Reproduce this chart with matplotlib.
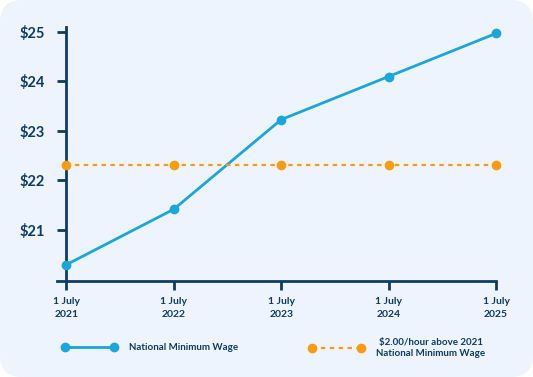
import matplotlib
matplotlib.use("Agg")
import matplotlib.pyplot as plt
from matplotlib.patches import FancyBboxPatch

# Data
years = [2021, 2022, 2023, 2024, 2025]
tick_labels = ["1 July\n2021", "1 July\n2022", "1 July\n2023", "1 July\n2024", "1 July\n2025"]
min_wage = [20.30, 21.42, 23.23, 24.10, 24.97]
above_2021 = [22.31, 22.31, 22.31, 22.31, 22.31]
y_ticks = [21, 22, 23, 24, 25]
y_tick_labels = ["$21", "$22", "$23", "$24", "$25"]

navy = "#0D3B63"
blue = "#1BA6DE"
orange = "#F99C12"
bg = "#EDF4FD"

plt.rcParams['font.family'] = ['Lato', 'DejaVu Sans']

fig = plt.figure(figsize=(5.33, 3.77), dpi=100, facecolor="white")
fig.patches.append(FancyBboxPatch((0, 0), 533, 377, boxstyle="round,pad=0,rounding_size=22",
                                  transform=None, facecolor=bg, edgecolor="none", zorder=-10))

ax = fig.add_axes([0.1077, 0.2546, 0.8229, 0.6738])
ax.set_facecolor("none")
ax.set_zorder(1)

l1, = ax.plot(years, min_wage, color=blue, lw=2, marker="o", ms=6, clip_on=False, zorder=3)
l2, = ax.plot(years, above_2021, color=orange, lw=1.6, ls=(0, (2, 2)), marker="o", ms=6,
              clip_on=False, zorder=3)

ax.set_xlim(2021 - 0.084, 2025)
ax.set_ylim(19.97, 25.1)
ax.spines["left"].set_position(("data", 2021))
for s in ["top", "right"]:
    ax.spines[s].set_visible(False)
for s in ["left", "bottom"]:
    ax.spines[s].set_color(navy)
    ax.spines[s].set_linewidth(2)

ax.set_xticks(years)
ax.set_xticklabels(tick_labels, fontsize=7.5, fontweight="bold", color=navy, linespacing=1.6)
ax.set_yticks(y_ticks)
ax.set_yticklabels(y_tick_labels, fontsize=10.5, fontweight="bold", color=navy)
ax.tick_params(axis="both", direction="out", length=6.5, width=2, color=navy)
ax.tick_params(axis="y", pad=9)
ax.tick_params(axis="x", pad=5)

# legends, one per entry
leg_kw = dict(loc="center left", frameon=False, numpoints=2, handlelength=5.6,
              handletextpad=1.3, borderpad=0, borderaxespad=0,
              prop={"size": 7, "weight": "bold"}, labelcolor=navy)
leg1 = fig.legend([l1], ["National Minimum Wage"], bbox_to_anchor=(62 / 533, 1 - 348 / 377), **leg_kw)
leg2 = fig.legend([l2], ["$2.00/hour above 2021\nNational Minimum Wage"],
                  bbox_to_anchor=(309 / 533, 1 - 348 / 377), **leg_kw)
for t in leg2.get_texts():
    t.set_multialignment("center")
    t.set_linespacing(1.35)

fig.savefig("out.png", dpi=100, facecolor="white")
